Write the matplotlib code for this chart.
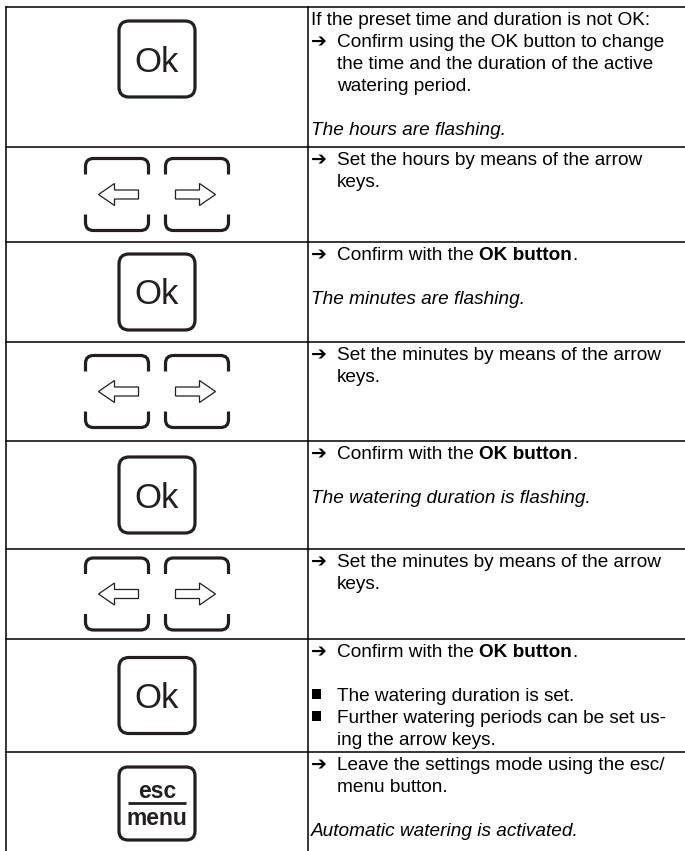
import matplotlib
matplotlib.use("Agg")
import matplotlib.pyplot as plt
from matplotlib.patches import FancyBboxPatch, PathPatch, Polygon, Rectangle
from matplotlib.path import Path

# key drawn in the left column of each row
keys = ["ok", "arrows", "ok", "arrows", "ok", "arrows", "ok", "esc"]

intro = "If the preset time and duration is not OK:"

# text after the arrow mark, **..** = bold
steps = [
    ["Confirm using the OK button to change",
     "the time and the duration of the active",
     "watering period."],
    ["Set the hours by means of the arrow", "keys."],
    ["Confirm with the **OK button**."],
    ["Set the minutes by means of the arrow", "keys."],
    ["Confirm with the **OK button**."],
    ["Set the minutes by means of the arrow", "keys."],
    ["Confirm with the **OK button**."],
    ["Leave the settings mode using the esc/", "menu button."],
]

notes = ["The hours are flashing.", None, "The minutes are flashing.", None,
         "The watering duration is flashing.", None, None,
         "Automatic watering is activated."]

bullets = [None, None, None, None, None, None,
           [["The watering duration is set."],
            ["Further watering periods can be set us-", "ing the arrow keys."]],
           None]

# layout (pixels)
W, H = 685, 851
row_top = [7, 147, 242, 342, 441, 549, 639, 752]
x_left, x_mid = 6, 308
LH = 22
FS = 13.7
DARK = "#231f20"

plt.rcParams['font.family'] = ['Liberation Sans', 'DejaVu Sans']

fig = plt.figure(figsize=(W / 100, H / 100), dpi=100)
ax = fig.add_axes([0, 0, 1, 1])
ax.set_xlim(0, W)
ax.set_ylim(H, 0)
ax.axis("off")
renderer = fig.canvas.get_renderer()
space_w = 0.278 * FS / 0.72


def rich(x, y, s, **kw):
    parts = s.split("**")
    for i, part in enumerate(parts):
        if not part:
            continue
        lead = len(part) - len(part.lstrip(" "))
        trail = len(part) - len(part.rstrip(" "))
        x += lead * space_w
        t = ax.text(x, y, part.strip(" "), fontsize=FS, va="baseline",
                    fontweight="bold" if i % 2 else "normal", **kw)
        x += t.get_window_extent(renderer).width + trail * space_w


def ok_key(cx, cy):
    ax.add_patch(FancyBboxPatch((cx - 38, cy - 38), 76, 76,
                                boxstyle="round,pad=0,rounding_size=10",
                                fc="white", ec=DARK, lw=2.3))
    ax.text(cx, cy + 12.5, "Ok", fontsize=25, ha="center", va="baseline",
            color=DARK)


def esc_key(cx, cy):
    ax.add_patch(FancyBboxPatch((cx - 38, cy - 36.5), 76, 73,
                                boxstyle="round,pad=0,rounding_size=9",
                                fc="white", ec=DARK, lw=2.3))
    ax.text(cx, cy - 5.5, "esc", fontsize=16.5, fontweight="bold",
            ha="center", va="baseline", color=DARK)
    ax.plot([cx - 29, cx + 29], [cy - 0.5, cy - 0.5], color=DARK, lw=2,
            solid_capstyle="butt")
    ax.text(cx, cy + 21.5, "menu", fontsize=16.5, fontweight="bold",
            ha="center", va="baseline", color=DARK)


def bracket(x0, x1, y_edge, y_leg, r):
    s = 1 if y_leg > y_edge else -1
    verts = [(x0, y_leg), (x0, y_edge + s * r), (x0, y_edge), (x0 + r, y_edge),
             (x1 - r, y_edge), (x1, y_edge), (x1, y_edge + s * r), (x1, y_leg)]
    codes = [Path.MOVETO, Path.LINETO, Path.CURVE3, Path.CURVE3,
             Path.LINETO, Path.CURVE3, Path.CURVE3, Path.LINETO]
    ax.add_patch(PathPatch(Path(verts, codes), fc="none", ec=DARK, lw=2.3,
                           capstyle="butt"))


def arrow_key(x0, cy, left):
    x1 = x0 + 63
    y0, y1 = cy - 36, cy + 36
    bracket(x0, x1, y0, y0 + 16, 8)
    bracket(x0, x1, y1, y1 - 16, 8)
    hl, hh, sh = 16, 11, 4.5
    if left:
        xt, xe = x0 + 13, x1 - 10
        d = 1
    else:
        xt, xe = x1 - 13, x0 + 10
        d = -1
    pts = [(xt, cy), (xt + d * hl, cy - hh), (xt + d * hl, cy - sh),
           (xe, cy - sh), (xe, cy + sh), (xt + d * hl, cy + sh),
           (xt + d * hl, cy + hh)]
    ax.add_patch(Polygon(pts, closed=True, fc="white", ec=DARK, lw=0.9,
                         joinstyle="miter"))


# table rules
ax.plot([x_left, x_left], [row_top[0], H], color="black", lw=1.1)
ax.plot([x_mid, x_mid], [row_top[0], H], color="black", lw=1.1)
for y in row_top:
    ax.plot([x_left, W], [y, y], color="black", lw=1.1)

bottoms = row_top[1:] + [H]
for i, key in enumerate(keys):
    top, bot = row_top[i], bottoms[i]
    cx = (x_left + x_mid) / 2
    cy = (top + bot) / 2
    if key == "ok":
        ok_key(cx, 59 if i == 0 else cy)
    elif key == "arrows":
        arrow_key(cx - 71.5, cy, True)
        arrow_key(cx + 8.5, cy, False)
    else:
        esc_key(cx, 803.5)

    lines = []
    if i == 0:
        lines.append(("plain", intro))
    for j, s in enumerate(steps[i]):
        lines.append(("arrow" if j == 0 else "cont", s))
    if bullets[i]:
        lines.append(("blank", ""))
        for b in bullets[i]:
            for j, s in enumerate(b):
                lines.append(("bullet" if j == 0 else "cont", s))
    if notes[i]:
        lines.append(("blank", ""))
        lines.append(("note", notes[i]))

    for k, (kind, s) in enumerate(lines):
        yb = top + 18 + k * LH
        if kind == "plain":
            rich(x_mid + 3, yb, s)
        elif kind == "note":
            ax.text(x_mid + 3, yb, s, fontsize=FS, style="italic",
                    va="baseline")
        elif kind == "arrow":
            ax.text(x_mid + 3, yb, "\u2794", fontsize=FS, va="baseline",
                    fontweight="bold")
            rich(x_mid + 29, yb, s)
        elif kind == "bullet":
            ax.add_patch(Rectangle((x_mid + 4, yb - 12), 9, 9.5,
                                   fc="black", ec="none"))
            rich(x_mid + 29, yb, s)
        elif kind == "cont":
            rich(x_mid + 29, yb, s)

fig.savefig("out.png", dpi=100)
